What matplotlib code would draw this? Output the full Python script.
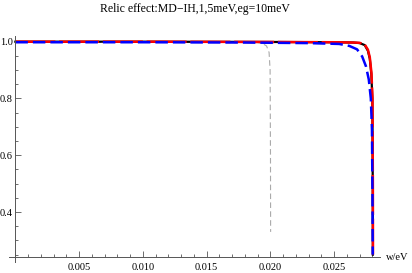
import matplotlib.pyplot as plt
from matplotlib.ticker import MultipleLocator

# values
w_black = [0.0, 0.010, 0.020, 0.025, 0.0265, 0.0270, 0.0274, 0.02765, 0.0278, 0.02792, 0.0280, 0.02803, 0.02804]
y_black = [1.0, 1.0, 0.999, 0.998, 0.997, 0.995, 0.988, 0.968, 0.94, 0.885, 0.80, 0.50, 0.25]

w_red = [0.0, 0.010, 0.020, 0.025, 0.0265, 0.0270, 0.0274, 0.02765, 0.0278, 0.02793, 0.02801, 0.02804, 0.02805]
y_red = [1.0, 1.0, 0.999, 0.998, 0.997, 0.996, 0.990, 0.972, 0.945, 0.89, 0.80, 0.50, 0.25]

w_blue = [0.0, 0.010, 0.018, 0.0230, 0.0254, 0.0262, 0.0268, 0.0272, 0.0275, 0.02772, 0.02788, 0.02797, 0.02801, 0.02803]
y_blue = [0.998, 0.998, 0.997, 0.995, 0.992, 0.985, 0.973, 0.948, 0.913, 0.867, 0.80, 0.69, 0.45, 0.25]

w_gray = [0.0, 0.010, 0.0190, 0.0194, 0.0197, 0.01990, 0.01998, 0.02001, 0.02002]
y_gray = [0.998, 0.998, 0.997, 0.993, 0.985, 0.962, 0.90, 0.60, 0.33]

x_major = [0.005, 0.010, 0.015, 0.020, 0.025]
y_major = [0.4, 0.6, 0.8, 1.0]

plt.rcParams['font.family'] = ['Liberation Serif', 'DejaVu Serif']

fig = plt.figure(figsize=(4.12, 2.73), dpi=100)
ax = fig.add_axes([9 / 412, 11 / 273, 371 / 412, 226 / 273])

ax.plot(w_gray, y_gray, color='#aaaaaa', lw=0.8, dashes=(5, 3))
ax.plot(w_black, y_black, color='black', lw=1.6)
ax.plot(w_red, y_red, color='red', lw=1.8, dashes=(16, 1.5))
ax.plot(w_blue, y_blue, color='blue', lw=1.8, dashes=(5, 2))

ax.set_xlim(-0.0005, 0.0286)
ax.set_ylim(0.224, 1.02)

for s in ['top', 'right']:
    ax.spines[s].set_visible(False)
ax.spines['left'].set_position(('data', 0))
ax.spines['bottom'].set_position(('data', 0.24))
ax.spines['left'].set_color('#555555')
ax.spines['bottom'].set_color('#555555')
ax.spines['left'].set_linewidth(0.7)
ax.spines['bottom'].set_linewidth(0.7)

ax.set_xticks(x_major)
ax.set_xticklabels(['%.3f' % v for v in x_major])
ax.set_yticks(y_major)
ax.set_yticklabels(['%.1f' % v for v in y_major])
ax.xaxis.set_minor_locator(MultipleLocator(0.001))
ax.yaxis.set_minor_locator(MultipleLocator(0.05))
ax.tick_params(which='both', direction='in', color='#555555', width=0.6,
               labelsize=7.5, pad=2)
ax.tick_params(which='major', length=4)
ax.tick_params(which='minor', length=2.2)
ax.tick_params(axis='x', pad=4)

ax.set_title('Relic effect:MD\u2212IH,1,5meV,eg=10meV', fontsize=8.5, y=1.02, pad=14)
ax.text(1.015, 0.24, 'w/eV', transform=ax.get_yaxis_transform(),
        fontsize=7.5, va='center', ha='left')

fig.savefig('out.png', dpi=100)
